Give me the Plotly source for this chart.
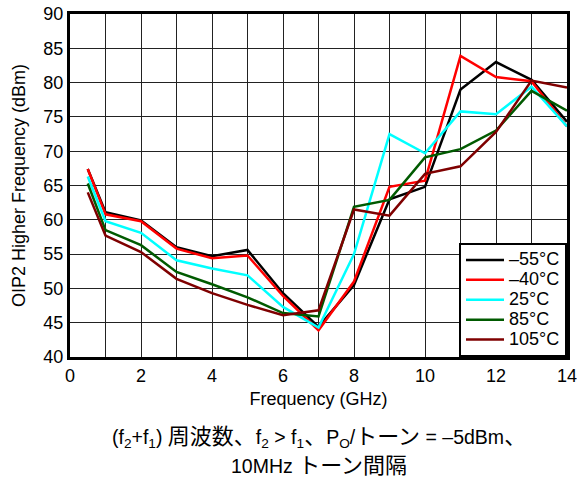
import plotly.graph_objects as go

freq = [0.5, 1, 2, 3, 4, 5, 6, 7, 8, 9, 10, 11, 12, 13, 14]
t_m55 = [67.4, 61.1, 59.9, 56.0, 54.7, 55.6, 49.3, 44.4, 50.5, 63.0, 64.8, 79.0, 83.0, 80.4, 74.3]
t_m40 = [67.4, 60.8, 59.8, 55.8, 54.4, 54.8, 48.9, 43.9, 51.0, 64.8, 65.7, 83.9, 80.8, 80.2, 73.6]
t_25 = [66.3, 59.8, 58.1, 54.1, 52.9, 51.9, 47.3, 44.3, 55.0, 72.5, 69.7, 75.8, 75.4, 79.4, 73.6]
t_85 = [65.3, 58.5, 56.3, 52.4, 50.6, 48.7, 46.4, 45.9, 61.9, 62.9, 69.1, 70.3, 73.0, 78.8, 75.9]
t_105 = [64.0, 57.7, 55.3, 51.4, 49.3, 47.6, 46.1, 46.8, 61.5, 60.6, 66.7, 67.8, 72.8, 80.3, 79.3]

series_names = ["–55°C", "–40°C", "25°C", "85°C", "105°C"]
series_vals = [t_m55, t_m40, t_25, t_85, t_105]
series_colors = ["#000000", "#FF0000", "#00FFFF", "#005A00", "#7F0000"]

x_ticks = [0, 2, 4, 6, 8, 10, 12, 14]
y_ticks = [40, 45, 50, 55, 60, 65, 70, 75, 80, 85, 90]

FONT = "Liberation Sans, Arial, Noto Sans CJK JP, sans-serif"
CJK = "<span style='font-size:22px'>{}</span>"
LEG = "<span style='font-size:18px'>{}</span>"

fig = go.Figure()
for name, vals, col in zip(series_names, series_vals, series_colors):
    fig.add_trace(go.Scatter(x=freq, y=vals, mode="lines", name=LEG.format(name),
                             line=dict(color=col, width=2.5)))

fig.update_layout(
    width=577, height=479,
    margin=dict(l=70, r=10, t=14, b=122),
    plot_bgcolor="white", paper_bgcolor="white",
    font=dict(family=FONT, size=18, color="black"),
    showlegend=True,
    legend=dict(x=1, xanchor="right", y=0, yanchor="bottom",
                bordercolor="black", borderwidth=2, bgcolor="white",
                font=dict(size=13), tracegroupgap=0, itemwidth=38),
    xaxis=dict(range=[0, 14], tickvals=x_ticks, showgrid=True, gridcolor="#222",
               gridwidth=1, showline=True, linecolor="black", linewidth=3, mirror=True,
               ticks="", zeroline=False, automargin=False, ticklabeloverflow="allow",
               minor=dict(dtick=1, showgrid=True, gridcolor="#222", gridwidth=1),
               title=dict(text="Frequency (GHz)", font=dict(size=18), standoff=8),
               tickfont=dict(size=18)),
    yaxis=dict(range=[40, 90], tickvals=y_ticks, showgrid=True, gridcolor="#222",
               gridwidth=1, showline=True, linecolor="black", linewidth=3, mirror=True,
               ticks="", zeroline=False, automargin=False, ticklabeloverflow="allow",
               title=dict(text="OIP2 Higher Frequency (dBm)", font=dict(size=18), standoff=14),
               tickfont=dict(size=18)),
)

line1 = ("(f<sub>2</sub>+f<sub>1</sub>) " + CJK.format("周波数、") + "f<sub>2</sub> &gt; f<sub>1</sub>"
         + CJK.format("、") + "P<sub>O</sub>/" + CJK.format("トーン") + " = –5dBm" + CJK.format("、"))
line2 = "10MHz " + CJK.format("トーン間隔")

fig.add_annotation(text=line1, xref="paper", yref="paper", x=0.5, y=-0.236,
                   xanchor="center", yanchor="middle", showarrow=False,
                   font=dict(size=19.5, family=FONT))
fig.add_annotation(text=line2, xref="paper", yref="paper", x=0.5, y=-0.315,
                   xanchor="center", yanchor="middle", showarrow=False,
                   font=dict(size=19.5, family=FONT))

fig.write_html("out.html", config={"displayModeBar": False},
               post_script="document.body.style.margin='0';")
